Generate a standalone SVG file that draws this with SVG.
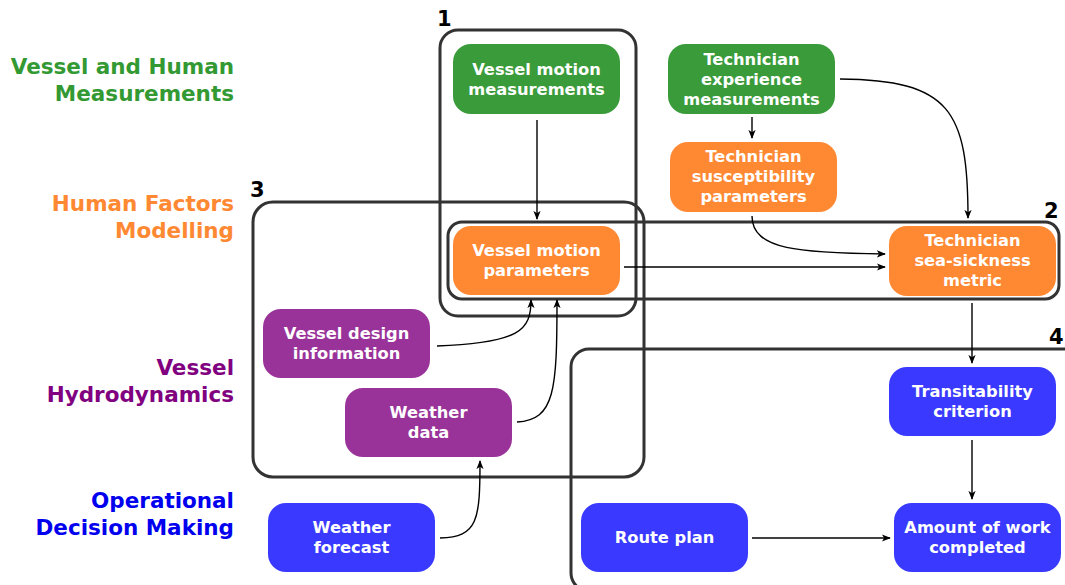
<svg xmlns="http://www.w3.org/2000/svg" width="1065" height="585" viewBox="0 0 1065 585">
<defs>
<style>
.lbl{font-family:"DejaVu Sans",Verdana,sans-serif;font-weight:bold;font-size:21.5px;text-anchor:end}
.nt{font-family:"DejaVu Sans",Verdana,sans-serif;font-weight:bold;font-size:16.3px;fill:#fff;text-anchor:middle}
.num{font-family:"DejaVu Sans",Verdana,sans-serif;font-weight:bold;font-size:21px;fill:#000}
.frame{fill:none;stroke:#333;stroke-width:3}
.g{fill:#3a9b3a}.o{fill:#ff8833}.p{fill:#993399}.b{fill:#3939ff}
.c{fill:none;stroke:#000;stroke-width:1.4;marker-end:url(#ah)}
</style>
<marker id="ah" viewBox="0 0 10 10" refX="9" refY="5" markerWidth="9" markerHeight="9" markerUnits="userSpaceOnUse" orient="auto">
<path d="M0,1 L10,5 L0,9 L2.5,5 z" fill="#000"/>
</marker>
</defs>
<rect width="1065" height="585" fill="#fff"/>

<g id="row-labels">
<text class="lbl" fill="#339933" x="234" y="74">Vessel and Human</text>
<text class="lbl" fill="#339933" x="234" y="101">Measurements</text>
<text class="lbl" fill="#ff8833" x="234" y="211">Human Factors</text>
<text class="lbl" fill="#ff8833" x="234" y="238">Modelling</text>
<text class="lbl" fill="#800080" x="234" y="375">Vessel</text>
<text class="lbl" fill="#800080" x="234" y="402">Hydrodynamics</text>
<text class="lbl" fill="#0000ee" x="234" y="508">Operational</text>
<text class="lbl" fill="#0000ee" x="234" y="535">Decision Making</text>
</g>

<g id="frames">
<rect class="frame" x="440" y="30" width="196" height="286" rx="18"/>
<text class="num" x="437" y="26">1</text>
<rect class="frame" x="448" y="222" width="611" height="77" rx="14"/>
<text class="num" x="1044" y="218">2</text>
<rect class="frame" x="253" y="202" width="391" height="275" rx="20"/>
<text class="num" x="250" y="197">3</text>
<rect class="frame" x="571" y="349" width="520" height="242" rx="18"/>
<text class="num" x="1049" y="344">4</text>
</g>

<g id="connectors">
<path class="c" d="M537,120 L537,219"/>
<path class="c" d="M752,117 L752,138"/>
<path class="c" d="M840,79 C950,80 968,110 968,218"/>
<path class="c" d="M752,216 C752,250 800,253 885,254"/>
<path class="c" d="M624,267 L885,267"/>
<path class="c" d="M437,346 C520,343 531,330 531,300"/>
<path class="c" d="M517,422 C555,420 557,390 557,300"/>
<path class="c" d="M440,538 C478,537 480,520 480,461"/>
<path class="c" d="M972,303 L972,363"/>
<path class="c" d="M972,440 L972,499"/>
<path class="c" d="M752,538 L890,538"/>
</g>

<g id="n-vmm"><rect class="g" x="453" y="44" width="167" height="70" rx="18"/>
<text class="nt" x="536.5" y="75">Vessel motion</text><text class="nt" x="536.5" y="95">measurements</text></g>
<g id="n-tem"><rect class="g" x="668" y="44" width="167" height="70" rx="18"/>
<text class="nt" x="751.5" y="65">Technician</text><text class="nt" x="751.5" y="85">experience</text><text class="nt" x="751.5" y="105">measurements</text></g>
<g id="n-tsp"><rect class="o" x="670" y="142" width="167" height="70" rx="18"/>
<text class="nt" x="753.5" y="162">Technician</text><text class="nt" x="753.5" y="182">susceptibility</text><text class="nt" x="753.5" y="202">parameters</text></g>
<g id="n-vmp"><rect class="o" x="453" y="226" width="167" height="69" rx="18"/>
<text class="nt" x="536.5" y="256">Vessel motion</text><text class="nt" x="536.5" y="276">parameters</text></g>
<g id="n-tsm"><rect class="o" x="889" y="226" width="167" height="70" rx="18"/>
<text class="nt" x="972.5" y="246">Technician</text><text class="nt" x="972.5" y="266">sea-sickness</text><text class="nt" x="972.5" y="286">metric</text></g>
<g id="n-vdi"><rect class="p" x="263" y="309" width="167" height="69" rx="18"/>
<text class="nt" x="346.5" y="339">Vessel design</text><text class="nt" x="346.5" y="359">information</text></g>
<g id="n-wd"><rect class="p" x="345" y="388" width="167" height="69" rx="18"/>
<text class="nt" x="428.5" y="418">Weather</text><text class="nt" x="428.5" y="438">data</text></g>
<g id="n-tc"><rect class="b" x="889" y="367" width="167" height="69" rx="18"/>
<text class="nt" x="972.5" y="397">Transitability</text><text class="nt" x="972.5" y="417">criterion</text></g>
<g id="n-wf"><rect class="b" x="268" y="503" width="167" height="69" rx="18"/>
<text class="nt" x="351.5" y="533">Weather</text><text class="nt" x="351.5" y="553">forecast</text></g>
<g id="n-rp"><rect class="b" x="581" y="503" width="167" height="69" rx="18"/>
<text class="nt" x="664.5" y="543">Route plan</text></g>
<g id="n-awc"><rect class="b" x="894" y="503" width="167" height="69" rx="18"/>
<text class="nt" x="977.5" y="533">Amount of work</text><text class="nt" x="977.5" y="553">completed</text></g>
</svg>
